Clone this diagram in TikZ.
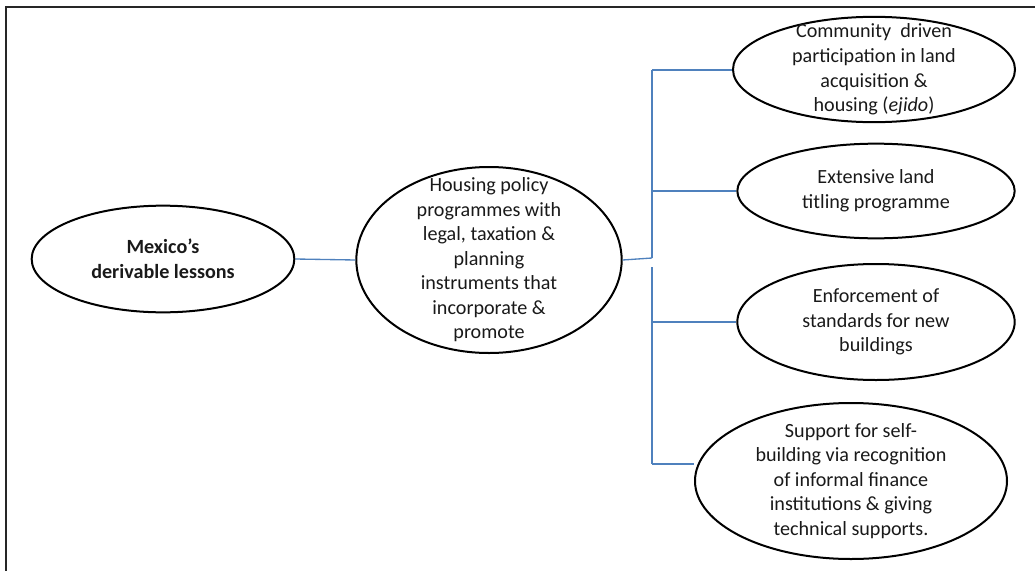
\documentclass[tikz,border=0pt]{standalone}
\usepackage{fontspec}
\setmainfont{Carlito}
\usetikzlibrary{shapes.geometric}
\definecolor{linkblue}{RGB}{79,129,189}

\begin{document}
\begin{tikzpicture}[
  x=0.75pt,y=-0.75pt,
  ell/.style={draw,ellipse,line width=1.5pt,inner sep=0pt},
  txt/.style={align=center,inner sep=0pt,text=black!90,
              font=\fontsize{15.1}{18.4}\selectfont},
  link/.style={draw=linkblue,line width=1pt}
]
\useasboundingbox (0,0) rectangle (1035,571);
% Frame
\draw[line width=1.8pt,black!85] (1035,7) -- (6,7) -- (6,571);
% Mexico
\node[ell,minimum width=197pt,minimum height=80pt] (mex) at (163,259) {};
\node[txt,font=\fontsize{15.1}{18.4}\selectfont\bfseries] (mextxt) at (mex)
  {Mexico’s\\derivable lessons};
% Housing policy
\node[ell,minimum width=199pt,minimum height=139.5pt] (hp) at (489,260) {};
\node[txt] (hptxt) at (hp)
  {Housing policy\\programmes with\\legal, taxation \&\\planning\\instruments that\\incorporate \&\\promote};
% Community
\node[ell,minimum width=211.5pt,minimum height=79pt] (comm) at (874,69.5) {};
\node[txt] (commtxt) at (comm)
  {Community~ driven\\participation in land\\acquisition \&\\housing (\textit{ejido})};
% Titling
\node[ell,minimum width=208pt,minimum height=71pt] (titl) at (876,191) {};
\node[txt] (titltxt) at (titl) {Extensive land\\titling programme};
% Standards
\node[ell,minimum width=208pt,minimum height=87pt] (stand) at (876,322) {};
\node[txt] (standtxt) at (stand) {Enforcement of\\standards for new\\buildings};
% Self-building
\node[ell,minimum width=234pt,minimum height=117pt] (self) at (851,481) {};
\node[txt] (selftxt) at (self)
  {Support for self-\\building via recognition\\of informal finance\\institutions \& giving\\technical supports.};
% Tree
\coordinate (t1) at (652,70);
\coordinate (t2) at (652,191);
\coordinate (t3) at (652,322);
\coordinate (t4) at (652,464);
\coordinate (tj) at (652,258);
\coordinate (tg) at (652,267);
\draw[link] (mex.east) -- (hp.west);
\draw[link] (hp.east) -- (tj);
\draw[link] (t1) -- (tj);
\draw[link] (tg) -- (t4);
\draw[link] (t1) -- (t1 -| comm.west);
\draw[link] (t2) -- (t2 -| titl.west);
\draw[link] (t3) -- (t3 -| stand.west);
\draw[link] (t4) -- (t4 -| self.west);
\end{tikzpicture}
\end{document}
